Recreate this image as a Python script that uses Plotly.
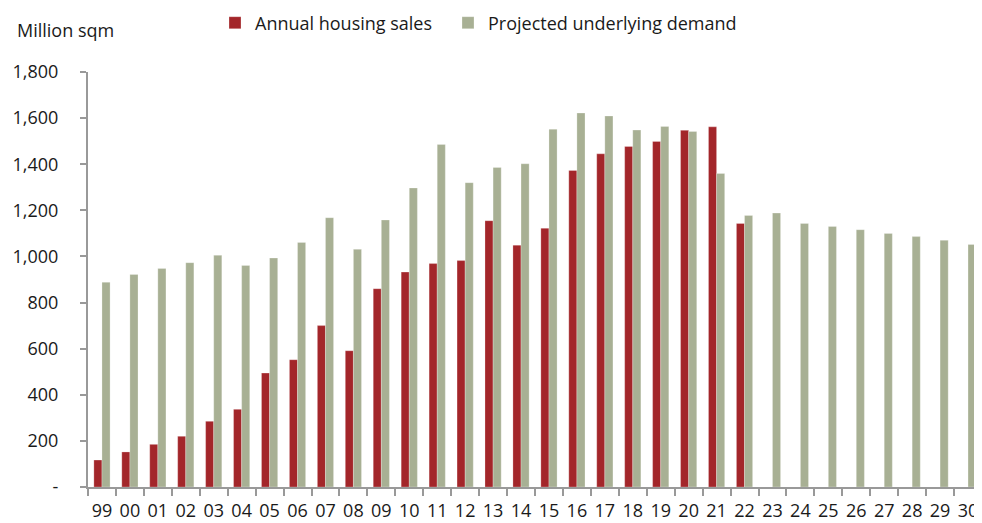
import plotly.graph_objects as go

years = ["99", "00", "01", "02", "03", "04", "05", "06", "07", "08", "09", "10",
         "11", "12", "13", "14", "15", "16", "17", "18", "19", "20", "21", "22",
         "23", "24", "25", "26", "27", "28", "29", "30"]
sales = [117, 152, 185, 220, 285, 337, 494, 552, 700, 591, 860, 932,
         969, 982, 1155, 1049, 1122, 1373, 1445, 1477, 1499, 1547, 1562, 1143,
         None, None, None, None, None, None, None, None]
demand = [888, 922, 948, 973, 1005, 961, 993, 1061, 1168, 1031, 1158, 1297,
          1486, 1320, 1386, 1402, 1552, 1622, 1609, 1548, 1564, 1542, 1360, 1178,
          1188, 1143, 1130, 1116, 1100, 1086, 1070, 1052]
ytickvals = [0, 200, 400, 600, 800, 1000, 1200, 1400, 1600, 1800]
yticktext = ["-", "200", "400", "600", "800", "1,000", "1,200", "1,400", "1,600", "1,800"]

RED = "#A3262A"
GREEN = "#A8B094"
FONT = "Open Sans"
TXT = "#1a1a1a"
FS = 18

W, H = 974, 515
L, R, T, B = 80, 0, 64, 36
PW, PH = W - L - R, H - T - B

fig = go.Figure()
fig.add_trace(go.Bar(x=years, y=sales, name="Annual housing sales", legend="legend",
                     marker=dict(color=RED, line=dict(color="rgba(255,255,255,0.5)", width=0.5))))
fig.add_trace(go.Bar(x=years, y=demand, name="Projected underlying demand", legend="legend2",
                     marker=dict(color=GREEN, line=dict(color="rgba(255,255,255,0.5)", width=0.5))))

leg_common = dict(orientation="h", xref="container", yref="container",
                  xanchor="left", yanchor="middle", bgcolor="rgba(0,0,0,0)",
                  font=dict(family=FONT, size=FS, color=TXT), itemwidth=30)

fig.update_layout(
    width=W, height=H,
    margin=dict(l=L, r=R, t=T, b=B, autoexpand=False),
    plot_bgcolor="white", paper_bgcolor="white",
    barmode="group", bargap=0.42, bargroupgap=0,
    font=dict(family=FONT, size=FS, color=TXT),
    showlegend=True,
    legend=dict(x=207 / W, y=1 - 15 / H, **leg_common),
    legend2=dict(x=440 / W, y=1 - 15 / H, **leg_common),
    xaxis=dict(type="category", range=[-0.5, 31.5], showline=True, linecolor="#999999",
               linewidth=2, ticks="outside", tickson="boundaries", ticklen=7,
               tickcolor="#999999", tickwidth=1.5, showgrid=False, tickangle=0,
               automargin=False, ticklabelstandoff=6,
               tickfont=dict(family=FONT, size=FS, color=TXT)),
    yaxis=dict(range=[0, 1800], tickvals=ytickvals, ticktext=yticktext,
               showline=True, linecolor="#999999", linewidth=2, ticks="outside",
               ticklen=6, tickcolor="#999999", tickwidth=1.5, showgrid=False,
               zeroline=False, ticklabelstandoff=18, automargin=False,
               tickfont=dict(family=FONT, size=FS, color=TXT)),
    annotations=[dict(text="Million sqm", xref="paper", yref="paper",
                      x=(7 - L) / PW, y=(H - B - 22) / PH, xanchor="left", yanchor="middle",
                      showarrow=False, font=dict(family=FONT, size=FS, color=TXT))],
)

fig.write_html("out.html")
